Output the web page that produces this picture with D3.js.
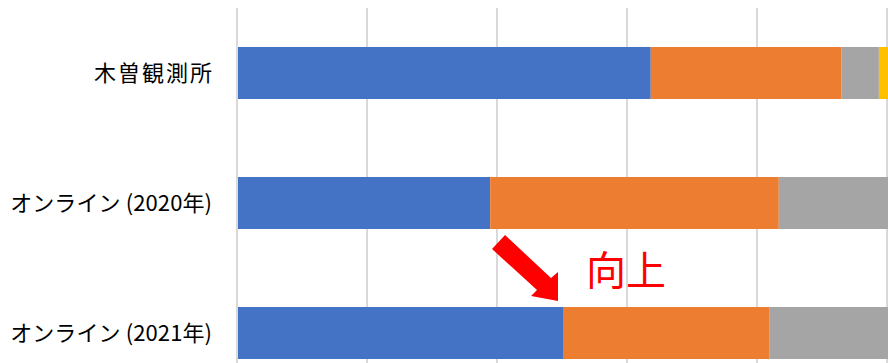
<!DOCTYPE html>
<html>
<head>
<meta charset="utf-8">
<script src="https://cdn.jsdelivr.net/npm/d3@7"></script>
<style>
  body { margin: 0; background: #fff; }
  svg { display: block; }
</style>
</head>
<body>
<div id="chart"></div>
<script>
// categories (top to bottom) and share of each series, in percent
const categories = ['木曽観測所', 'オンライン (2020年)', 'オンライン (2021年)'];
const seriesNames = ['s1', 's2', 's3', 's4'];
const s1 = [63.5, 38.8, 50.0];
const s2 = [29.3, 44.4, 31.8];
const s3 = [5.8, 16.8, 18.2];
const s4 = [1.4, 0, 0];
const xTicks = [0, 20, 40, 60, 80, 100];
const colors = ['#4472C4', '#ED7D31', '#A5A5A5', '#FFC000'];

const width = 888, height = 363;

const rows = categories.map((c, i) => ({ cat: c, s1: s1[i], s2: s2[i], s3: s3[i], s4: s4[i] }));
const stacked = d3.stack().keys(seriesNames)(rows);

const svg = d3.select('#chart').append('svg')
    .attr('width', width)
    .attr('height', height);

const x = d3.scaleLinear().domain([0, 100]).range([237, 887]);
const y = d3.scaleBand().domain(categories).range([8, 398])
    .paddingInner(0.6).paddingOuter(0.3);

// vertical gridlines
svg.append('g')
    .selectAll('line')
    .data(xTicks)
    .enter()
    .append('line')
    .attr('x1', d => x(d)).attr('x2', d => x(d))
    .attr('y1', 8).attr('y2', height)
    .attr('stroke', '#d9d9d9')
    .attr('stroke-width', 2);

// stacked bars
svg.append('g')
    .selectAll('g')
    .data(stacked)
    .enter()
    .append('g')
    .attr('fill', (d, i) => colors[i])
    .selectAll('rect')
    .data(d => d)
    .enter()
    .append('rect')
    .attr('x', d => x(d[0]) + 1)
    .attr('y', d => y(d.data.cat))
    .attr('width', d => Math.max(0, x(d[1]) - x(d[0])))
    .attr('height', y.bandwidth());

// category labels (kanji in the original are set a little wider)
// letter-spacing also trails the last glyph, so shift x by it
const spacing = (d, i) => i === 0 ? 2 : 0.1;
svg.append('g')
    .selectAll('text')
    .data(categories)
    .enter()
    .append('text')
    .attr('x', (d, i) => 212 + spacing(d, i))
    .attr('y', d => y(d) + y.bandwidth() / 2)
    .attr('dy', '0.36em')
    .attr('text-anchor', 'end')
    .attr('font-family', '"Noto Sans CJK JP", "Noto Sans", sans-serif')
    .attr('font-size', 22)
    .attr('letter-spacing', spacing)
    .attr('fill', '#000')
    .text(d => d);

// annotation: red arrow and "向上"
svg.append('polygon')
    .attr('points', '505,235 551,278 558,272 558,301 531,296 537,290 492,249')
    .attr('fill', '#ff0000');

svg.append('text')
    .attr('x', 586)
    .attr('y', 285)
    .attr('font-family', '"Noto Sans CJK JP", sans-serif')
    .attr('font-size', 40)
    .attr('fill', '#ff0000')
    .text('向上');
</script>
</body>
</html>
